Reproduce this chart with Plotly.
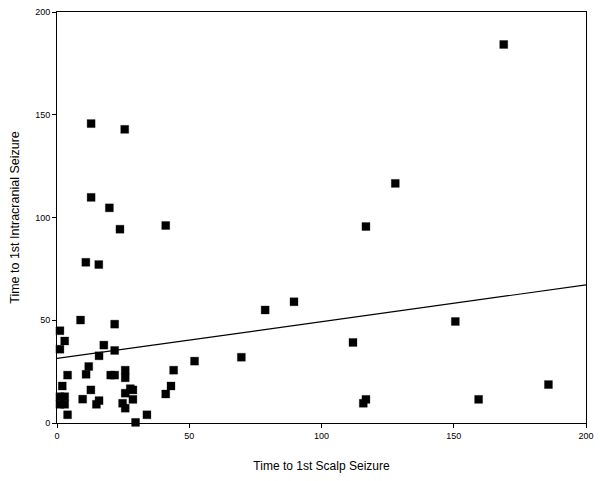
import plotly.graph_objects as go

# Time to 1st scalp seizure (x) vs time to 1st intracranial seizure (y)
scalp_time = [
    168.9, 127.9, 116.8, 78.7, 89.6, 150.6, 111.9, 69.7, 185.8, 159.4, 116.8, 115.8,
    12.9, 25.6, 12.9, 19.8, 23.8, 10.9, 15.8, 41.1, 52.0,
    8.9, 21.8, 1.1, 2.9, 1.1, 17.7, 21.8, 15.9,
    44.1, 43.1, 41.1, 34.0, 29.7,
    25.8, 25.8, 27.7, 28.7, 25.8, 28.7, 24.8, 25.8,
    12.0, 11.0, 20.3, 21.8, 4.0, 2.0, 1.1, 2.9, 1.1, 2.9, 4.0,
    12.8, 9.7, 15.9, 14.9,
]
intracranial_time = [
    184.2, 116.6, 95.6, 55.0, 59.0, 49.4, 39.2, 32.0, 18.7, 11.5, 11.5, 9.6,
    145.7, 142.9, 109.8, 104.7, 94.3, 78.2, 77.1, 96.1, 30.1,
    50.1, 48.1, 44.9, 39.9, 35.9, 37.9, 35.3, 32.7,
    25.7, 18.0, 14.1, 4.0, 0.3,
    25.7, 22.0, 16.7, 16.1, 14.5, 11.5, 9.6, 7.2,
    27.5, 23.7, 23.3, 23.3, 23.3, 18.0, 12.8, 12.8, 9.1, 9.1, 4.0,
    16.1, 11.6, 10.9, 9.1,
]

# Fitted trend line
trend_x = [0, 200]
trend_y = [31.4, 67.2]

x_ticks = [0, 50, 100, 150, 200]
y_ticks = [0, 50, 100, 150, 200]

fig = go.Figure()
fig.add_trace(go.Scatter(
    x=trend_x, y=trend_y, mode="lines",
    line=dict(color="black", width=1.2),
    hoverinfo="skip", showlegend=False,
))
fig.add_trace(go.Scatter(
    x=scalp_time, y=intracranial_time, mode="markers",
    marker=dict(symbol="square", size=8, color="black", line=dict(width=0.3, color="black")),
    cliponaxis=False, showlegend=False,
))

axis_common = dict(
    showgrid=False, zeroline=False, automargin=False,
    showline=True, linecolor="black", linewidth=1, mirror=True,
    ticks="outside", ticklen=4, tickcolor="black", tickwidth=1,
    tickfont=dict(family="Liberation Sans", size=9, color="black"),
)

fig.update_layout(
    width=600, height=481,
    margin=dict(l=57, r=14, t=12, b=58),
    paper_bgcolor="white", plot_bgcolor="white",
    font=dict(family="Liberation Sans", color="black"),
    xaxis=dict(
        range=[0, 200], tickvals=x_ticks, **axis_common,
        title=dict(text="Time to 1st Scalp Seizure",
                   font=dict(family="Liberation Sans", size=12), standoff=21),
    ),
    yaxis=dict(
        range=[0, 200], tickvals=y_ticks, **axis_common,
        title=dict(text="Time to 1st Intracranial Seizure",
                   font=dict(family="Liberation Sans", size=12.5), standoff=12),
    ),
)

fig.write_html("out.html", config={"displayModeBar": False},
               post_script="document.body.style.margin='0';")
